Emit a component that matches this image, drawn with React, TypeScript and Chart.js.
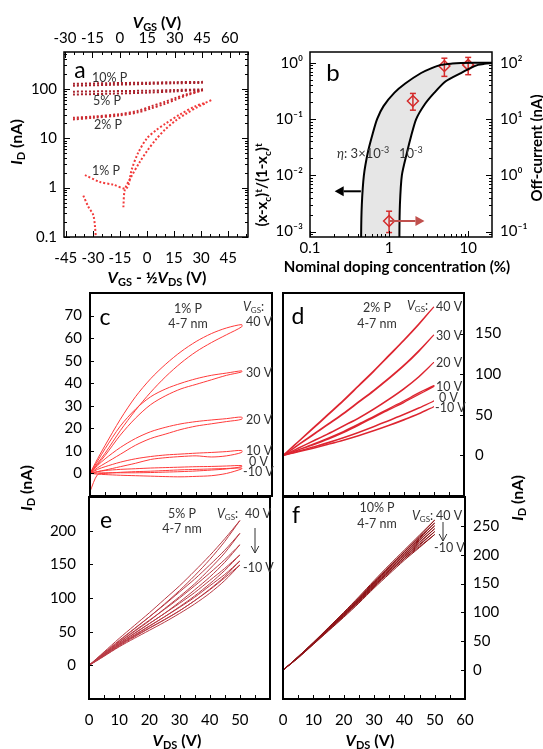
import React, { useEffect, useRef } from 'react';
import { Chart, registerables } from 'chart.js';

Chart.register(...registerables);

const FONT = 'Lato, "Open Sans", "DejaVu Sans", sans-serif';

// ---------------- Panel a: I_D vs V_GS - 1/2 V_DS (log) ----------------
const A_X_BOTTOM_TICKS = [-45, -30, -15, 0, 15, 30, 45];
const A_X_TOP_TICKS = [-30, -15, 0, 15, 30, 45, 60];
const A_Y_TICKS = [0.1, 1, 10, 100];
const A10_X = [-41, -20, 0, 15, 31];
const A10_FWD = [127, 131, 134, 137, 139];
const A10_REV = [116, 121, 126, 130, 133];
const A5_X = [-41, -20, 0, 15, 31];
const A5_FWD = [88, 90, 92, 95, 98];
const A5_REV = [77, 80, 84, 89, 96];
const A2_X = [-41, -30, -15, -5, 2, 10, 16, 22, 31];
const A2_FWD = [26, 27.5, 31, 36, 44, 55, 66, 78, 96];
const A2_REV = [24, 26, 29, 33.5, 40, 50, 61, 74, 94];
const A1_X = [-34.4, -26, -18.7, -11.3, -8.5, -5, 0, 5, 10, 18, 27, 32, 36];
const A1_FWD = [1.8, 1.3, 1.15, 0.97, 2.3, 5, 10, 14.5, 19.5, 30, 45, 52, 60];
const A1_REV_X = [-13.1, -12.3, -9, -4, 0, 5, 10, 16, 22, 28, 32];
const A1_REV = [0.4, 0.9, 1.6, 3.3, 5.5, 9.5, 15, 23, 32, 43, 50];
const A1_OFF_X = [-35.3, -32.5, -29.8, -28.8, -28.3];
const A1_OFF = [0.69, 0.41, 0.28, 0.16, 0.09];

// ---------------- Panel b: normalized conductance vs doping ----------------
const B_X_TICKS = [0.1, 1, 10];
const B_YL_TICKS = [0.001, 0.01, 0.1, 1];
const B_YR_TICKS = [0.1, 1, 10, 100];
const B_C1_X = [0.443, 0.443, 0.452, 0.48, 0.54, 0.62, 0.705, 0.85, 1.17, 1.6, 2.54, 3.4, 4.55, 6.3, 8.1, 12, 20];
const B_C1_Y = [0.0001, 0.00085, 0.003, 0.01, 0.026, 0.055, 0.1, 0.17, 0.295, 0.43, 0.66, 0.8, 0.92, 0.97, 0.99, 1.0, 1.0];
const B_C2_X = [0.443, 1.35, 1.35, 1.37, 1.45, 1.69, 1.9, 2.2, 2.8, 3.74, 5.2, 8.1, 10.5, 13.3, 16, 20];
const B_C2_Y = [0.0001, 0.0001, 0.00085, 0.003, 0.01, 0.026, 0.05, 0.1, 0.18, 0.295, 0.47, 0.66, 0.8, 0.92, 0.96, 0.99];
const B_PT_X = [1, 2, 5, 10];
const B_PT_Y = [0.154, 21, 88, 92];
const B_PT_LO = [0.096, 14.4, 57.5, 61.6];
const B_PT_HI = [0.23, 28.6, 121, 125];

// ---------------- Panels c-f: output curves ----------------
const VDS = [0, 2.5, 5, 10, 15, 20, 25, 30, 35, 40, 45, 50];

const C_40_UP = [0, 6.5, 12.5, 24, 34, 42, 48.5, 54, 58.5, 62, 64.5, 66];
const C_40_DN = [0, 4.5, 9, 19, 28, 36, 43, 49, 54, 58, 61.5, 65];
const C_30_UP = [0, 5.5, 11, 21, 28.5, 34, 37.5, 40, 42, 43.5, 44.5, 45.5];
const C_30_DN = [0, 4, 8, 17, 24.5, 30.5, 34.5, 37.5, 39.5, 41.5, 43.5, 45];
const C_20_UP = [0, 3.5, 6.5, 11.5, 15.5, 18.5, 20.5, 22, 23, 23.7, 24.3, 25];
const C_20_DN = [0, 2.5, 4.5, 8.5, 12.5, 15.5, 17.5, 19.5, 21, 22, 23, 24];
const C_10_UP = [0, 1.8, 3, 5, 6.5, 7.5, 8.2, 8.6, 9, 9.3, 9.7, 10.2];
const C_10_DN = [0, 0.8, 1.5, 3, 4.5, 6.2, 7, 7.5, 7.8, 7.3, 7.8, 9.3];
const C_0_UP = [0, 0.8, 1.3, 1.8, 2.1, 2.4, 2.6, 2.8, 3, 3.1, 3.3, 3.5];
const C_0_DN = [0, 0.2, 0.3, 0.3, 0.3, 0.4, 0.6, 0.8, 1.1, 1.5, 2, 3];
const C_N10_UP = [-8, -0.5, 0, 0.5, 0.8, 1, 1.3, 1.6, 1.8, 2, 2.2, 2.4];
const C_N10_DN = [0, -0.3, -0.5, -0.8, -1, -1.2, -1.4, -1.5, -1.3, -1, 0, 2];

const D_40_UP = [0, 8.5, 17, 34, 51, 68, 86, 104, 123, 142, 162, 183];
const D_40_DN = [0, 8, 16.5, 33, 50, 67, 85, 103, 122, 141, 161, 183];
const D_30_UP = [0, 6.5, 13, 26, 39, 52, 66, 80, 95, 111, 129, 148.5];
const D_30_DN = [0, 6, 12.5, 25, 38, 51, 65, 79, 94, 110, 128, 148.5];
const D_20_UP = [0, 4.5, 9, 18, 27, 36.5, 46, 57, 69, 82, 97, 114.5];
const D_20_DN = [0, 4.3, 8.7, 17.5, 26.5, 36, 45.5, 56.5, 68.5, 81.5, 96.5, 114.5];
const D_10_UP = [0, 3.2, 6.5, 13, 20, 28, 37, 46.5, 56, 65, 75, 85];
const D_10_DN = [0, 3.5, 7, 14, 21.5, 29.5, 38.5, 48, 57.5, 67, 77, 86];
const D_0_UP = [0, 2.6, 5.2, 10.5, 16, 22, 28.5, 35.5, 43, 50.5, 58.5, 67];
const D_0_DN = [0, 2.4, 5, 10, 15.5, 21.5, 28, 35, 42.5, 50, 58, 67];
const D_N10_UP = [0, 2.2, 4.5, 9, 14, 19, 24.5, 30.5, 37, 44, 51.5, 60];
const D_N10_DN = [0, 2.1, 4.3, 8.7, 13.5, 18.5, 24, 30, 36.5, 43.5, 51, 60];

const E_40_UP = [0, 10, 20, 40, 59, 78, 98, 118, 140, 163, 188, 215];
const E_40_DN = [0, 9, 18, 36, 54, 72, 91, 111, 133, 157, 184, 215];
const E_30_UP = [0, 9.5, 19, 37, 54.5, 72, 90, 109, 128, 149, 171, 196];
const E_30_DN = [0, 8.5, 17, 34, 50, 66, 84, 102, 121, 143, 167, 196];
const E_20_UP = [0, 9, 17.5, 34.5, 51, 67, 83, 100, 118, 137, 157, 179];
const E_20_DN = [0, 8, 16, 32, 47, 62, 77, 94, 112, 131, 153, 179];
const E_10_UP = [0, 8.5, 16.5, 32.5, 47.5, 62, 77, 92, 108, 126, 144, 164];
const E_10_DN = [0, 7.5, 15, 30, 44, 58, 72, 87, 103, 121, 141, 164];
const E_0_UP = [0, 8, 15.5, 31, 45, 58.5, 72, 86, 101, 118, 135, 155];
const E_0_DN = [0, 7, 14, 28.5, 42, 55, 67.5, 81, 96, 113, 132, 155];
const E_N10_UP = [0, 7.5, 15, 30, 43, 55.5, 68, 81, 96, 112, 130, 149];
const E_N10_DN = [0, 6.5, 13.5, 27.5, 40, 52, 64, 77, 91, 107, 126, 149];

const F_40_UP = [0, 11.5, 23.5, 48, 74, 100, 127, 155, 182, 208, 234, 260];
const F_40_DN = [0, 11, 22.5, 46.5, 72, 97.5, 124, 152, 179, 205.5, 232, 260];
const F_30_UP = [0, 11.5, 23.5, 48, 73.5, 99, 125.5, 153, 179.5, 205, 230, 255];
const F_30_DN = [0, 11, 22.5, 46.5, 71.5, 96.5, 122.5, 150, 176.5, 202.5, 228, 255];
const F_20_UP = [0, 11.5, 23, 47.5, 73, 98, 124, 151, 177, 202, 226, 250];
const F_20_DN = [0, 11, 22.5, 46, 71, 95.5, 121, 148, 174, 199.5, 224.5, 250];
const F_10_UP = [0, 11.5, 23, 47, 72, 97, 122.5, 149, 174.5, 199, 222, 245];
const F_10_DN = [0, 11, 22, 45.5, 70, 94.5, 119.5, 146, 171.5, 196.5, 220.5, 245];
const F_0_UP = [0, 11, 22.5, 46.5, 71, 95.5, 121, 147, 172, 196, 218, 240];
const F_0_DN = [0, 10.5, 21.5, 45, 69, 93, 118, 144, 169, 193.5, 216.5, 240];
const F_N10_UP = [0, 11, 22, 46, 70, 94, 119, 145, 169.5, 193, 214, 235];
const F_N10_DN = [0, 10.5, 21, 44.5, 68, 91.5, 116, 142, 166.5, 190.5, 212.5, 235];

const C_Y_TICKS = [0, 10, 20, 30, 40, 50, 60, 70];
const D_Y_TICKS = [0, 50, 100, 150];
const E_Y_TICKS = [0, 50, 100, 150, 200];
const F_Y_TICKS = [0, 50, 100, 150, 200, 250];
const E_X_TICKS = [0, 10, 20, 30, 40, 50];
const F_X_TICKS = [0, 10, 20, 30, 40, 50, 60];
const VGS_LABELS = ['40 V', '30 V', '20 V', '10 V', '0 V', '-10 V'];

// ---------------- helpers ----------------
type Seg = { t: string; it?: boolean; sub?: boolean; sup?: boolean };
const S = (t: string, o: Partial<Seg> = {}): Seg => ({ t, ...o });

interface TextSpec { x: number; y: number; segs: Seg[]; size: number; align?: string; rot?: number; color?: string; bold?: boolean }
interface TickSpec { axis: string; side: string; major: number[]; minor?: number[]; len?: number; minorLen?: number }
interface ArrowSpec { x1: number; y1: number; x2: number; y2: number; color: string; width: number; head: number; open?: boolean; xAxis?: string; yAxis?: string }
interface Deco { frame: number; ticks: TickSpec[]; texts: TextSpec[]; dataArrows?: ArrowSpec[]; pageArrows?: ArrowSpec[] }

function drawRich(ctx: CanvasRenderingContext2D, t: TextSpec, ox: number, oy: number) {
  const size = t.size;
  const fontFor = (s: Seg) =>
    `${s.it ? 'italic ' : ''}${t.bold ? 'bold ' : ''}${s.sub || s.sup ? Math.round(size * 0.66) : size}px ${FONT}`;
  ctx.save();
  ctx.translate(t.x - ox, t.y - oy);
  if (t.rot) ctx.rotate(t.rot);
  let total = 0;
  const widths = t.segs.map((s) => {
    ctx.font = fontFor(s);
    const w = ctx.measureText(s.t).width;
    total += w;
    return w;
  });
  let cx = t.align === 'left' ? 0 : t.align === 'right' ? -total : -total / 2;
  ctx.fillStyle = t.color || '#000';
  ctx.textBaseline = 'alphabetic';
  t.segs.forEach((s, i) => {
    ctx.font = fontFor(s);
    const dy = s.sub ? size * 0.22 : s.sup ? -size * 0.38 : 0;
    ctx.fillText(s.t, cx, size * 0.36 + dy);
    cx += widths[i];
  });
  ctx.restore();
}

function drawArrow(ctx: CanvasRenderingContext2D, a: ArrowSpec, x1: number, y1: number, x2: number, y2: number) {
  ctx.save();
  ctx.strokeStyle = a.color;
  ctx.fillStyle = a.color;
  ctx.lineWidth = a.width;
  const ang = Math.atan2(y2 - y1, x2 - x1);
  const hx = x2 - Math.cos(ang) * a.head;
  const hy = y2 - Math.sin(ang) * a.head;
  const px = -Math.sin(ang) * a.head * 0.55;
  const py = Math.cos(ang) * a.head * 0.55;
  ctx.beginPath();
  ctx.moveTo(x1, y1);
  ctx.lineTo(a.open ? x2 : hx, a.open ? y2 : hy);
  ctx.stroke();
  ctx.beginPath();
  if (a.open) {
    ctx.moveTo(hx + px, hy + py);
    ctx.lineTo(x2, y2);
    ctx.lineTo(hx - px, hy - py);
    ctx.stroke();
  } else {
    ctx.moveTo(x2, y2);
    ctx.lineTo(hx + px, hy + py);
    ctx.lineTo(hx - px, hy - py);
    ctx.closePath();
    ctx.fill();
  }
  ctx.restore();
}

function decoPlugin(ox: number, oy: number, deco: Deco) {
  return {
    id: 'deco',
    afterDraw(chart: any) {
      const ctx: CanvasRenderingContext2D = chart.ctx;
      const a = chart.chartArea;
      ctx.save();
      ctx.strokeStyle = '#000';
      ctx.lineWidth = 1;
      for (const tk of deco.ticks) {
        const s = chart.scales[tk.axis];
        const draw = (v: number, len: number) => {
          if (v < s.min - 1e-9 || v > s.max + 1e-9) return;
          const p = Math.round(s.getPixelForValue(v)) + 0.5;
          ctx.beginPath();
          if (tk.side === 'left') { ctx.moveTo(a.left, p); ctx.lineTo(a.left + len, p); }
          else if (tk.side === 'right') { ctx.moveTo(a.right, p); ctx.lineTo(a.right - len, p); }
          else if (tk.side === 'bottom') { ctx.moveTo(p, a.bottom); ctx.lineTo(p, a.bottom - len); }
          else { ctx.moveTo(p, a.top); ctx.lineTo(p, a.top + len); }
          ctx.stroke();
        };
        tk.major.forEach((v) => draw(v, tk.len ?? 6));
        (tk.minor || []).forEach((v) => draw(v, tk.minorLen ?? 3));
      }
      ctx.lineWidth = deco.frame;
      ctx.strokeRect(a.left, a.top, a.right - a.left, a.bottom - a.top);
      for (const ar of deco.dataArrows || []) {
        const xs = chart.scales[ar.xAxis || 'x'];
        const ys = chart.scales[ar.yAxis || 'y'];
        drawArrow(ctx, ar, xs.getPixelForValue(ar.x1), ys.getPixelForValue(ar.y1), xs.getPixelForValue(ar.x2), ys.getPixelForValue(ar.y2));
      }
      for (const ar of deco.pageArrows || []) {
        drawArrow(ctx, ar, ar.x1 - ox, ar.y1 - oy, ar.x2 - ox, ar.y2 - oy);
      }
      for (const t of deco.texts) drawRich(ctx, t, ox, oy);
      ctx.restore();
    },
  };
}

function axis(o: {
  type?: string; position: string; min: number; max: number; ticks: number[];
  fixed?: number; pad?: number; size?: number; fmt?: (v: number) => string; display?: boolean;
}) {
  const horiz = o.position === 'top' || o.position === 'bottom';
  return {
    type: o.type || 'linear',
    position: o.position,
    min: o.min,
    max: o.max,
    display: o.display !== false,
    grid: { display: false, drawTicks: false },
    border: { display: false },
    ticks: {
      display: true,
      autoSkip: false,
      maxRotation: 0,
      minRotation: 0,
      padding: o.pad ?? 4,
      color: '#000',
      font: { family: FONT, size: o.size ?? 14 },
      callback: (v: any) => (o.fmt ? o.fmt(Number(v)) : String(v)),
    },
    afterBuildTicks: (s: any) => {
      s.ticks = o.ticks.map((v) => ({ value: v }));
    },
    afterFit: (s: any) => {
      if (o.fixed != null) {
        if (horiz) s.height = o.fixed;
        else s.width = o.fixed;
      }
      s.paddingLeft = 0; s.paddingRight = 0; s.paddingTop = 0; s.paddingBottom = 0;
    },
  };
}

function steps(a: number, b: number, s: number) {
  const o: number[] = [];
  for (let v = a; v <= b + 1e-9; v += s) o.push(Math.round(v * 1000) / 1000);
  return o;
}
function logMinors(lo: number, hi: number) {
  const o: number[] = [];
  for (let d = Math.floor(Math.log10(lo)); d <= Math.ceil(Math.log10(hi)); d++) {
    for (let k = 2; k <= 9; k++) {
      const v = k * Math.pow(10, d);
      if (v > lo && v < hi) o.push(v);
    }
  }
  return o;
}

const pts = (xs: number[], ys: number[]) => xs.map((x, i) => ({ x, y: ys[i] }));
function loop(up: number[], dn: number[]) {
  const p = VDS.map((v, i) => ({ x: v, y: up[i] }));
  for (let i = VDS.length - 1; i >= 0; i--) p.push({ x: VDS[i], y: dn[i] });
  return p;
}

function common(padding: any) {
  return {
    animation: false,
    responsive: false,
    maintainAspectRatio: false,
    devicePixelRatio: 1,
    events: [],
    layout: { padding },
    plugins: {
      legend: { display: false },
      tooltip: { enabled: false },
      title: { display: false },
      filler: { drawTime: 'beforeDatasetsDraw' },
    },
    elements: { point: { radius: 0 }, line: { tension: 0.3 } },
  };
}

const sup = (n: string) => n.replace(/-/g, '⁻').replace(/0/g, '⁰').replace(/1/g, '¹').replace(/2/g, '²').replace(/3/g, '³');
const pow10Label = (v: number) => '10' + sup(String(Math.round(Math.log10(v))));

const ID_SEGS = [S('I', { it: true }), S('D', { sub: true }), S(' (nA)')];
const VGS_COLON = [S('V', { it: true }), S('GS', { sub: true }), S(':')];
const GRAY = '#333';

// ---------------- panel definitions ----------------
type Panel = { box: [number, number, number, number]; build: (ox: number, oy: number) => any };

const A_DARK = '#a8232d';
const A_MID = '#cc2a30';
const A_BRIGHT = '#f23a3a';
const dotted = (data: any[], color: string) => ({
  data, borderColor: color, borderWidth: 2, borderDash: [2, 2], pointRadius: 0, fill: false, tension: 0.3,
});

const panelA: Panel = {
  box: [0, 0, 270, 290],
  build: (ox, oy) => ({
    type: 'line',
    data: {
      datasets: [
        dotted(pts(A10_X, A10_FWD), A_DARK),
        dotted(pts(A10_X, A10_REV), A_DARK),
        dotted(pts(A5_X, A5_FWD), A_DARK),
        dotted(pts(A5_X, A5_REV), A_DARK),
        dotted(pts(A2_X, A2_FWD), A_MID),
        dotted(pts(A2_X, A2_REV), A_MID),
        dotted(pts(A1_X, A1_FWD), A_BRIGHT),
        dotted(pts(A1_REV_X, A1_REV), A_BRIGHT),
        dotted(pts(A1_OFF_X, A1_OFF), A_BRIGHT),
      ],
    },
    options: {
      ...common({ right: 22 }),
      scales: {
        x: axis({ position: 'bottom', min: -46, max: 56, ticks: A_X_BOTTOM_TICKS, fixed: 53, pad: 12, size: 15 }),
        x2: axis({ position: 'top', min: -30.5, max: 70, ticks: A_X_TOP_TICKS, fixed: 52, pad: 5, size: 15 }),
        y: axis({ type: 'logarithmic', position: 'left', min: 0.1, max: 560, ticks: A_Y_TICKS, fixed: 64, pad: 7, size: 15, fmt: (v) => String(v) }),
      },
    },
    plugins: [
      decoPlugin(ox, oy, {
        frame: 1.5,
        ticks: [
          { axis: 'y', side: 'left', major: A_Y_TICKS, minor: logMinors(0.1, 560) },
          { axis: 'y', side: 'right', major: A_Y_TICKS, minor: logMinors(0.1, 560) },
          { axis: 'x', side: 'bottom', major: A_X_BOTTOM_TICKS, minor: steps(-45, 55, 5) },
          { axis: 'x2', side: 'top', major: A_X_TOP_TICKS, minor: steps(-30, 70, 5) },
        ],
        texts: [
          { x: 80, y: 70, segs: [S('a')], size: 23 },
          { x: 92, y: 77, segs: [S('10% P')], size: 12.5, align: 'left', color: GRAY },
          { x: 93, y: 100, segs: [S('5% P')], size: 12.5, align: 'left', color: GRAY },
          { x: 94, y: 124, segs: [S('2% P')], size: 12.5, align: 'left', color: GRAY },
          { x: 92, y: 170, segs: [S('1% P')], size: 12.5, align: 'left', color: GRAY },
          { x: 157, y: 22, segs: [S('V', { it: true }), S('GS', { sub: true }), S(' (V)')], size: 16, bold: true },
          { x: 157, y: 277, segs: [S('V', { it: true }), S('GS', { sub: true }), S(' - ½'), S('V', { it: true }), S('DS', { sub: true }), S(' (V)')], size: 16, bold: true },
          { x: 16, y: 142, segs: ID_SEGS, size: 16, bold: true, rot: -Math.PI / 2 },
        ],
      }),
    ],
  }),
};

const B_RED = '#d42a2a';
const panelB: Panel = {
  box: [250, 0, 293, 290],
  build: (ox, oy) => ({
    type: 'line',
    data: {
      datasets: [
        { data: pts(B_C1_X, B_C1_Y), borderColor: '#000', borderWidth: 2, fill: '+1', backgroundColor: '#e6e6e6', tension: 0.25, pointRadius: 0 },
        { data: pts(B_C2_X, B_C2_Y), borderColor: '#000', borderWidth: 2, fill: false, tension: 0.25, pointRadius: 0 },
        {
          data: pts(B_PT_X, B_PT_Y), yAxisID: 'y2', showLine: false, pointStyle: 'rectRot', pointRadius: 5.5,
          pointBorderColor: B_RED, pointBorderWidth: 1.5, pointBackgroundColor: 'rgba(255,255,255,0)', borderColor: B_RED,
        },
        ...B_PT_X.map((x, i) => ({
          data: [{ x, y: B_PT_LO[i] }, { x, y: B_PT_HI[i] }], yAxisID: 'y2', showLine: true, borderColor: B_RED, borderWidth: 1.5,
          pointStyle: 'line', pointRadius: 3, pointBorderColor: B_RED, pointBorderWidth: 1.5, tension: 0,
        })),
      ],
    },
    options: {
      ...common({ top: 52 }),
      scales: {
        x: axis({ type: 'logarithmic', position: 'bottom', min: 0.1, max: 20, ticks: B_X_TICKS, fixed: 53, pad: 2, size: 15, fmt: (v) => String(v) }),
        y: axis({ type: 'logarithmic', position: 'left', min: 0.0008, max: 1.56, ticks: B_YL_TICKS, fixed: 60, pad: 7, size: 15, fmt: pow10Label }),
        y2: axis({ type: 'logarithmic', position: 'right', min: 0.08, max: 156, ticks: B_YR_TICKS, fixed: 51, pad: 8, size: 15, fmt: pow10Label }),
      },
    },
    plugins: [
      decoPlugin(ox, oy, {
        frame: 1.5,
        ticks: [
          { axis: 'x', side: 'bottom', major: B_X_TICKS, minor: logMinors(0.1, 20) },
          { axis: 'y', side: 'left', major: B_YL_TICKS, minor: logMinors(0.0008, 1.56) },
          { axis: 'y2', side: 'right', major: B_YR_TICKS, minor: logMinors(0.08, 156) },
        ],
        dataArrows: [
          { x1: 0.44, y1: 0.0052, x2: 0.205, y2: 0.0052, color: '#000', width: 2, head: 9 },
          { x1: 1.02, y1: 0.154, x2: 2.8, y2: 0.154, color: '#c0504d', width: 2, head: 9, yAxis: 'y2' },
        ],
        texts: [
          { x: 333, y: 72, segs: [S('b')], size: 24 },
          { x: 337, y: 153, segs: [S('η', { it: true }), S(': 3×10'), S('-3', { sup: true })], size: 13, align: 'left', color: GRAY },
          { x: 399, y: 153, segs: [S('10'), S('-3', { sup: true })], size: 13, align: 'left', color: GRAY },
          { x: 262, y: 185, segs: [S('(x-x'), S('c', { sub: true }), S(')'), S('t', { sup: true }), S('/(1-x'), S('c', { sub: true }), S(')'), S('t', { sup: true })], size: 15, bold: true, rot: -Math.PI / 2 },
          { x: 537, y: 148, segs: [S('Off-current (nA)')], size: 15, bold: true, rot: -Math.PI / 2 },
          { x: 397, y: 267, segs: [S('Nominal doping concentration (%)')], size: 15, bold: true },
        ],
      }),
    ],
  }),
};

function ivPanel(opts: {
  box: [number, number, number, number];
  pad: any;
  color: string;
  width: number;
  curves: [number[], number[]][];
  yMin: number; yMax: number; yTicks: number[]; ySide: string; yFixed: number; yPad: number;
  xTicks: number[] | null; xFixed?: number;
  texts: TextSpec[];
  pageArrows?: ArrowSpec[];
}): Panel {
  return {
    box: opts.box,
    build: (ox, oy) => ({
      type: 'line',
      data: {
        datasets: opts.curves.map(([up, dn]) => ({
          data: loop(up, dn), borderColor: opts.color, borderWidth: opts.width, pointRadius: 0, fill: false, tension: 0.3,
        })),
      },
      options: {
        ...common(opts.pad),
        scales: {
          x: opts.xTicks
            ? axis({ position: 'bottom', min: 0, max: 60, ticks: opts.xTicks, fixed: opts.xFixed, pad: 12, size: 15 })
            : axis({ position: 'bottom', min: 0, max: 60, ticks: [], display: false }),
          y: axis({ position: opts.ySide, min: opts.yMin, max: opts.yMax, ticks: opts.yTicks, fixed: opts.yFixed, pad: opts.yPad, size: 15 }),
        },
      },
      plugins: [
        decoPlugin(ox, oy, {
          frame: 2,
          ticks: [
            { axis: 'x', side: 'bottom', major: steps(0, 55, 5), len: 4 },
            { axis: 'y', side: opts.ySide, major: opts.yTicks, len: 4 },
          ],
          texts: opts.texts,
          pageArrows: opts.pageArrows,
        }),
      ],
    }),
  };
}

const lbl = (x: number, y: number, t: string, align = 'left'): TextSpec => ({ x, y, segs: [S(t)], size: 12.5, align, color: GRAY });

const panelC = ivPanel({
  box: [0, 280, 280, 260],
  pad: { top: 13, right: 8, bottom: 44 },
  color: '#ff3a3a',
  width: 1,
  curves: [[C_40_UP, C_40_DN], [C_30_UP, C_30_DN], [C_20_UP, C_20_DN], [C_10_UP, C_10_DN], [C_0_UP, C_0_DN], [C_N10_UP, C_N10_DN]],
  yMin: -10, yMax: 80, yTicks: C_Y_TICKS, ySide: 'left', yFixed: 90, yPad: 8,
  xTicks: null,
  texts: [
    { x: 105, y: 317, segs: [S('c')], size: 23 },
    lbl(188, 308, '1% P', 'center'),
    lbl(188, 323, '4-7 nm', 'center'),
    { x: 243, y: 306, segs: VGS_COLON, size: 12.5, align: 'left', color: GRAY },
    lbl(246, 321, VGS_LABELS[0]),
    lbl(246, 372, VGS_LABELS[1]),
    lbl(246, 419, VGS_LABELS[2]),
    lbl(246, 450, VGS_LABELS[3]),
    lbl(249, 461, VGS_LABELS[4]),
    lbl(243, 471, VGS_LABELS[5]),
    { x: 26, y: 488, segs: ID_SEGS, size: 16, bold: true, rot: -Math.PI / 2 },
  ],
});

const panelD = ivPanel({
  box: [270, 280, 273, 260],
  pad: { top: 13, left: 13, bottom: 44 },
  color: '#dd2530',
  width: 1.2,
  curves: [[D_40_UP, D_40_DN], [D_30_UP, D_30_DN], [D_20_UP, D_20_DN], [D_10_UP, D_10_DN], [D_0_UP, D_0_DN], [D_N10_UP, D_N10_DN]],
  yMin: -50, yMax: 200, yTicks: D_Y_TICKS, ySide: 'right', yFixed: 79, yPad: 11,
  xTicks: null,
  texts: [
    { x: 298, y: 316, segs: [S('d')], size: 23 },
    lbl(377, 307, '2% P', 'center'),
    lbl(377, 323, '4-7 nm', 'center'),
    { x: 407, y: 305, segs: VGS_COLON, size: 12.5, align: 'left', color: GRAY },
    lbl(436, 306, VGS_LABELS[0]),
    lbl(436, 335, VGS_LABELS[1]),
    lbl(436, 362, VGS_LABELS[2]),
    lbl(436, 386, VGS_LABELS[3]),
    lbl(439, 397, VGS_LABELS[4]),
    lbl(435, 407, VGS_LABELS[5]),
    { x: 517, y: 498, segs: ID_SEGS, size: 16, bold: true, rot: -Math.PI / 2 },
  ],
});

const panelE = ivPanel({
  box: [0, 490, 280, 259],
  pad: { top: 7, right: 10 },
  color: '#b83a44',
  width: 1,
  curves: [[E_40_UP, E_40_DN], [E_30_UP, E_30_DN], [E_20_UP, E_20_DN], [E_10_UP, E_10_DN], [E_0_UP, E_0_DN], [E_N10_UP, E_N10_DN]],
  yMin: -50, yMax: 250, yTicks: E_Y_TICKS, ySide: 'left', yFixed: 89, yPad: 13,
  xTicks: E_X_TICKS, xFixed: 50,
  texts: [
    { x: 106, y: 520, segs: [S('e')], size: 23 },
    lbl(182, 513, '5% P', 'center'),
    lbl(182, 528, '4-7 nm', 'center'),
    { x: 217, y: 513, segs: VGS_COLON, size: 12.5, align: 'left', color: GRAY },
    lbl(245, 513, VGS_LABELS[0]),
    lbl(243, 567, VGS_LABELS[5]),
    { x: 177, y: 740, segs: [S('V', { it: true }), S('DS', { sub: true }), S(' (V)')], size: 16, bold: true },
  ],
  pageArrows: [{ x1: 255, y1: 528, x2: 255, y2: 553, color: '#333', width: 1, head: 7, open: true }],
});

const panelF = ivPanel({
  box: [270, 490, 273, 259],
  pad: { top: 7, left: 13 },
  color: '#8e1418',
  width: 1,
  curves: [[F_40_UP, F_40_DN], [F_30_UP, F_30_DN], [F_20_UP, F_20_DN], [F_10_UP, F_10_DN], [F_0_UP, F_0_DN], [F_N10_UP, F_N10_DN]],
  yMin: -50, yMax: 300, yTicks: F_Y_TICKS, ySide: 'right', yFixed: 78, yPad: 8,
  xTicks: F_X_TICKS, xFixed: 50,
  texts: [
    { x: 296, y: 515, segs: [S('f')], size: 23 },
    lbl(377, 507, '10% P', 'center'),
    lbl(377, 523, '4-7 nm', 'center'),
    { x: 412, y: 515, segs: VGS_COLON, size: 12.5, align: 'left', color: GRAY },
    lbl(436, 515, VGS_LABELS[0]),
    lbl(434, 547, VGS_LABELS[5]),
    { x: 370, y: 740, segs: [S('V', { it: true }), S('DS', { sub: true }), S(' (V)')], size: 16, bold: true },
  ],
  pageArrows: [{ x1: 443, y1: 522, x2: 443, y2: 541, color: '#333', width: 1, head: 7, open: true }],
});

const PANELS: Panel[] = [panelA, panelB, panelC, panelD, panelE, panelF];

export default function App() {
  const refs = useRef<(HTMLCanvasElement | null)[]>([]);
  useEffect(() => {
    const charts = PANELS.map((p, i) => new Chart(refs.current[i] as HTMLCanvasElement, p.build(p.box[0], p.box[1])));
    return () => charts.forEach((c) => c.destroy());
  }, []);
  return (
    <div style={{ position: 'absolute', left: 0, top: 0, width: 543, height: 749, background: '#fff', overflow: 'hidden' }}>
      {PANELS.map((p, i) => (
        <canvas
          key={i}
          ref={(el) => { refs.current[i] = el; }}
          width={p.box[2]}
          height={p.box[3]}
          style={{ position: 'absolute', left: p.box[0], top: p.box[1], width: p.box[2], height: p.box[3] }}
        />
      ))}
    </div>
  );
}
